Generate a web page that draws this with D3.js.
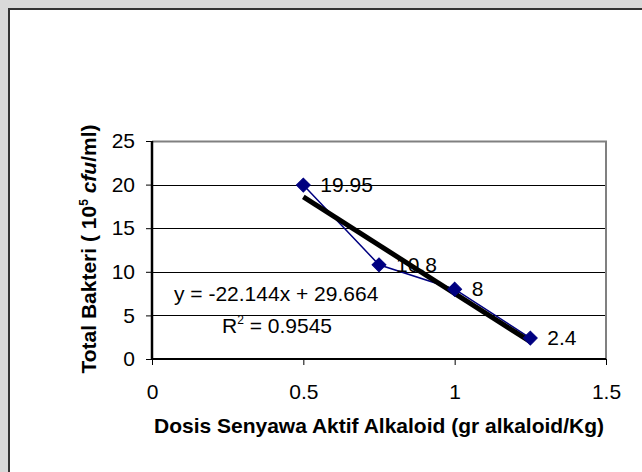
<!DOCTYPE html>
<html>
<head>
<meta charset="utf-8">
<script src="https://cdn.jsdelivr.net/npm/d3@7"></script>
<style>
  body { margin: 0; background: #d9d9d9; }
  svg { display: block; font-family: "Liberation Sans", Arial, sans-serif; }
</style>
</head>
<body>
<div id="chart"></div>
<script>
const dosis = [0.5, 0.75, 1, 1.25];
const bakteri = [19.95, 10.8, 8, 2.4];
const pointLabels = ['19.95', '10.8', '8', '2.4'];
const xTicks = [0, 0.5, 1, 1.5];
const yTicks = [0, 5, 10, 15, 20, 25];
const slope = -22.144;
const intercept = 29.664;
const r2 = '0.9545';

const w = 642;
const h = 472;
const padding = {
  top: 141,
  bottom: 113,
  right: 36,
  left: 152 };

const bodyFont = 21;
const titleFont = 21;

const svg = d3.select('#chart').
append('svg').
attr('width', w).
attr('height', h);

// white chart box with dark left/top border
svg.append('rect').
attr('x', 9).
attr('y', 9).
attr('width', w).
attr('height', h).
attr('fill', '#fff').
attr('stroke', '#333').
attr('stroke-width', 2);

const xScale = d3.scaleLinear().
domain([0, 1.5]).
range([padding.left, w - padding.right]);

const yScale = d3.scaleLinear().
domain([0, 25]).
range([h - padding.bottom, padding.top]);

// gridlines
svg.append('g').
selectAll('line').
data(yTicks.filter(d => d > 0 && d < 25)).
enter().
append('line').
attr('x1', xScale(0)).
attr('x2', xScale(1.5)).
attr('y1', d => Math.round(yScale(d)) + 0.5).
attr('y2', d => Math.round(yScale(d)) + 0.5).
attr('stroke', '#000').
attr('stroke-width', 1);

// plot area border (top / right)
svg.append('path').
attr('d', 'M' + xScale(0) + ',' + (Math.round(yScale(25)) + 0.5) +
'H' + xScale(1.5) + 'V' + yScale(0)).
attr('fill', 'none').
attr('stroke', '#808080').
attr('stroke-width', 2);

const xAxis = d3.axisBottom(xScale).
tickValues(xTicks).
tickFormat(d3.format('')).
tickSize(6).
tickPadding(19);

const yAxis = d3.axisLeft(yScale).
tickValues(yTicks).
tickFormat(d3.format('d')).
tickSize(6).
tickPadding(11);

const gx = svg.append('g').
attr('transform', 'translate(0,' + yScale(0) + ')').
call(xAxis);

const gy = svg.append('g').
attr('transform', 'translate(' + xScale(0) + ',0)').
call(yAxis);

gx.select('.domain').attr('stroke', '#000').attr('stroke-width', 2).attr('d', 'M' + xScale(0) + ',0H' + xScale(1.5));
gy.select('.domain').attr('stroke', '#000').attr('stroke-width', 2.5).attr('d', 'M0,' + yScale(0) + 'V' + yScale(25));
gx.selectAll('.tick line').attr('stroke', '#000').attr('stroke-width', 1);
gy.selectAll('.tick line').attr('stroke', '#000').attr('stroke-width', 1);
[gx, gy].forEach(function (g) {
  g.selectAll('text').
  attr('font-family', '"Liberation Sans", Arial, sans-serif').
  attr('font-size', bodyFont).
  attr('fill', '#000');
});

// data series
const line = d3.line().
x(d => xScale(d[0])).
y(d => yScale(d[1]));

const points = dosis.map((d, i) => [d, bakteri[i]]);

svg.append('path').
datum(points).
attr('d', line).
attr('fill', 'none').
attr('stroke', '#000080').
attr('stroke-width', 1.5);

// linear trendline
const trendX = [d3.min(dosis), d3.max(dosis)];
svg.append('path').
datum(trendX.map(x => [x, slope * x + intercept])).
attr('d', line).
attr('fill', 'none').
attr('stroke', '#000').
attr('stroke-width', 5);

const diamond = d3.symbol().type(d3.symbolSquare).size(96);
svg.selectAll('.marker').
data(points).
enter().
append('path').
attr('class', 'marker').
attr('d', diamond).
attr('transform', d => 'translate(' + xScale(d[0]) + ',' + yScale(d[1]) + ') rotate(45)').
attr('fill', '#000080').
attr('stroke', '#000080').
attr('stroke-width', 1);

svg.selectAll('.pt-label').
data(points).
enter().
append('text').
attr('class', 'pt-label').
attr('x', d => xScale(d[0]) + 17).
attr('y', d => yScale(d[1]) + 7).
attr('font-size', bodyFont).
attr('fill', '#000').
text((d, i) => pointLabels[i]);

// trendline equation
svg.append('text').
attr('x', 174).
attr('y', 301).
attr('font-size', bodyFont).
text('y = ' + slope + 'x + ' + intercept.toFixed(3));

const rText = svg.append('text').
attr('x', 222).
attr('y', 333).
attr('font-size', bodyFont);
rText.append('tspan').text('R');
rText.append('tspan').attr('dy', -9).attr('font-size', 12).text('2');
rText.append('tspan').attr('dy', 9).text(' = ' + r2);

// axis titles
svg.append('text').
attr('x', xScale(0.75)).
attr('y', 433).
attr('text-anchor', 'middle').
attr('font-weight', 'bold').
attr('font-size', titleFont).
text('Dosis Senyawa Aktif Alkaloid (gr alkaloid/Kg)');

const yLab = svg.append('text').
attr('transform', 'translate(96,249) rotate(-90)').
attr('text-anchor', 'middle').
attr('font-weight', 'bold').
attr('font-size', titleFont);
yLab.append('tspan').text('Total Bakteri ( 10');
yLab.append('tspan').attr('dy', -8).attr('font-size', 12).text('5');
yLab.append('tspan').attr('dy', 8).text(' ');
yLab.append('tspan').attr('font-style', 'italic').text('cfu');
yLab.append('tspan').text('/ml)');
</script>
</body>
</html>
